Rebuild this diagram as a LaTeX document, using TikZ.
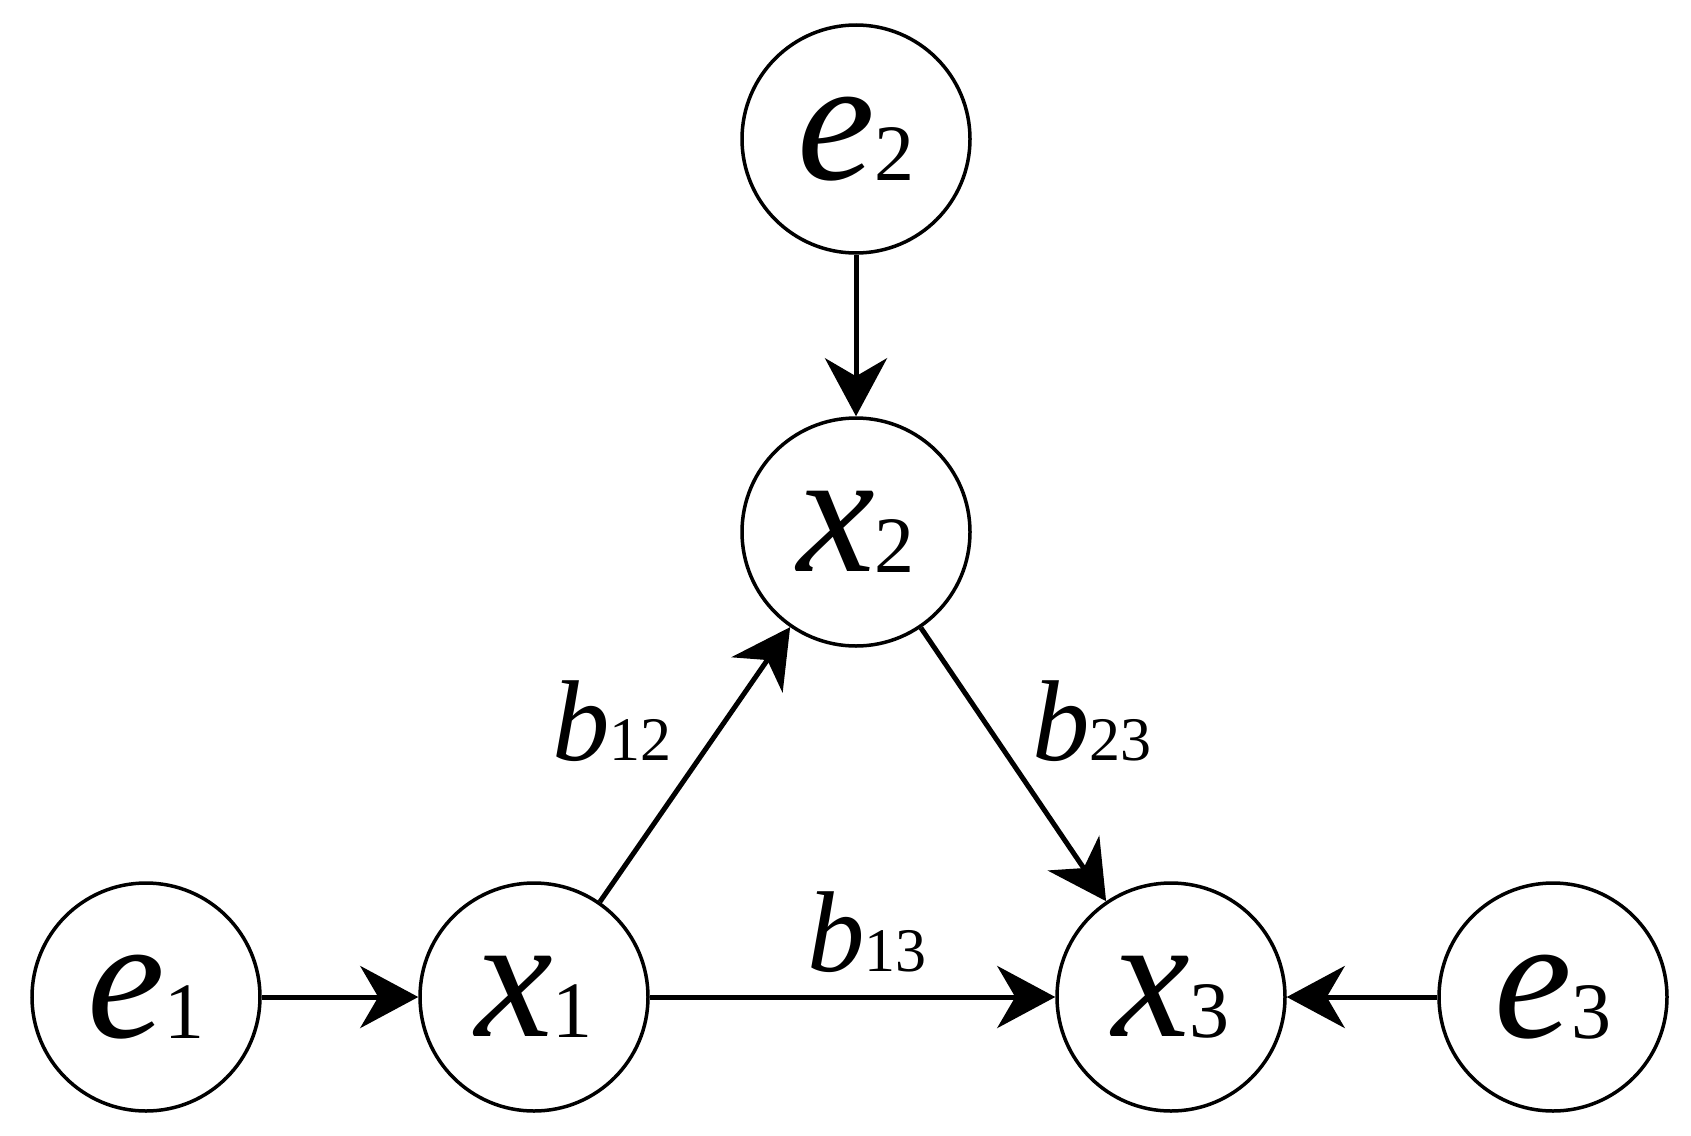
\documentclass[tikz,border=0pt]{standalone}
\usepackage{fontspec}
\setmainfont{Liberation Serif}
\usetikzlibrary{arrows.meta}
\newcommand{\vlab}[2]{{\fontsize{175}{175}\selectfont\itshape #1}\raisebox{-0.12em}{\fontsize{80}{80}\selectfont #2}}
\newcommand{\blab}[2]{{\fontsize{115}{115}\selectfont\itshape #1}\raisebox{-0.05em}{\fontsize{62}{62}\selectfont #2}}
\begin{document}
\begin{tikzpicture}[x=1pt,y=-1pt,
  v/.style={circle,draw,line width=3.5pt,minimum size=228pt,inner sep=0pt},
  a/.style={line width=5pt,-{Stealth[length=58pt,width=62pt,inset=18pt]}}]
\useasboundingbox (0,0) rectangle (1691,1135);
\node[v] (e1) at (146,997) {\vlab{e}{1}};
\node[v] (x1) at (534,997) {\vlab{x}{1}};
\node[v] (x3) at (1171,997) {\vlab{x}{3}};
\node[v] (e3) at (1553,997) {\vlab{e}{3}};
\node[v] (x2) at (856,532) {\vlab{x}{2}};
\node[v] (e2) at (856,139) {\vlab{e}{2}};
\draw[a] (e1) -- (x1);
\draw[a] (e3) -- (x3);
\draw[a] (e2) -- (x2);
\draw[a] (x1) -- (x3);
\draw[a] (x1) -- (x2);
\draw[a] (x2) -- (x3);
\node (b12) at (612,721) {\blab{b}{12}};
\node (b23) at (1092,721) {\blab{b}{23}};
\node (b13) at (867,932) {\blab{b}{13}};
\end{tikzpicture}
\end{document}
